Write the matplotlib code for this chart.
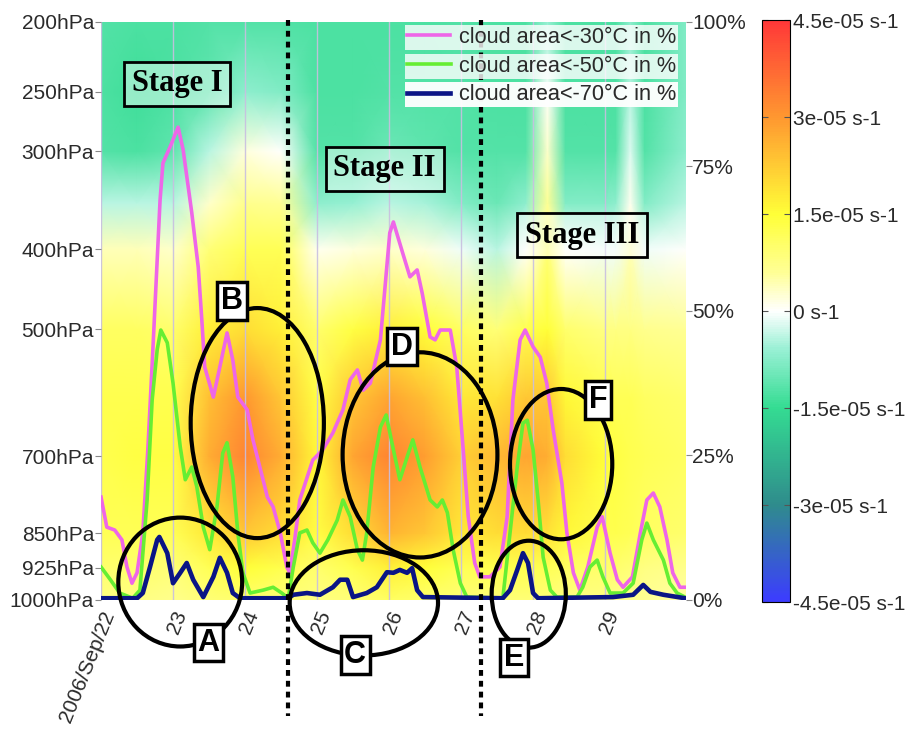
import numpy as np
import matplotlib
matplotlib.use("Agg")
import matplotlib.pyplot as plt
from matplotlib.colors import LinearSegmentedColormap
from matplotlib.patches import Ellipse
import matplotlib.transforms as mtransforms

plt.rcParams['font.family'] = ['Liberation Sans', 'DejaVu Sans']

# ---- divergence field (1e-5 s-1), rows = pressure levels, cols = time (days after Sep 22 00Z)
levels_hpa = [1000, 925, 850, 700, 600, 500, 400, 350, 300, 250, 200]
tick_hpa = [1000, 925, 850, 700, 500, 400, 300, 250, 200]
field_days = [0.0, 0.5, 1.0, 1.5, 2.0, 2.5, 3.0, 3.5, 4.0, 4.5, 5.0, 5.5,
              5.9, 6.2, 6.45, 7.0, 7.15, 7.35, 7.55, 8.125]
field_cols = [
    [0.8, 1.0, 1.2, 1.3, 1.3, 1.1, 0.4, -0.4, -1.2, -1.3, -1.2],
    [0.8, 1.0, 1.2, 1.4, 1.3, 1.1, 0.4, -0.4, -1.3, -1.4, -1.3],
    [0.7, 0.9, 1.2, 1.4, 1.3, 1.0, 0.3, -0.4, -1.1, -1.3, -1.3],
    [0.9, 1.2, 1.8, 2.7, 2.4, 1.7, 0.9, 0.3, -0.4, -1.1, -1.2],
    [1.0, 1.5, 2.3, 3.3, 3.0, 2.0, 1.2, 0.7, 0.2, -0.7, -1.2],
    [0.9, 1.3, 2.0, 2.7, 2.3, 1.7, 1.2, 0.6, 0.0, -0.8, -1.2],
    [0.8, 1.0, 1.4, 1.6, 1.4, 1.0, 0.1, -0.7, -1.2, -1.3, -1.3],
    [0.9, 1.3, 2.0, 2.8, 2.3, 1.4, 0.2, -0.6, -1.2, -1.3, -1.3],
    [1.1, 1.7, 2.6, 3.3, 2.8, 1.7, 0.3, -0.4, -1.0, -1.2, -1.3],
    [1.0, 1.5, 2.3, 2.9, 2.4, 1.5, 0.2, -0.5, -1.1, -1.2, -1.3],
    [0.9, 1.2, 1.8, 2.2, 1.8, 1.1, -0.1, -0.8, -1.2, -1.2, -1.2],
    [0.9, 1.3, 2.0, 2.5, 1.9, 0.9, -0.4, -1.0, -1.2, -1.3, -1.3],
    [0.9, 1.3, 2.0, 2.8, 2.3, 1.3, 0.0, -0.7, -1.2, -1.3, -1.3],
    [0.9, 1.2, 1.9, 2.7, 2.3, 1.5, 0.9, 0.6, 0.3, 0.0, -0.6],
    [0.8, 1.1, 1.6, 2.0, 1.6, 1.0, 0.0, -0.8, -1.2, -1.3, -1.3],
    [0.8, 1.0, 1.3, 1.5, 1.3, 0.8, -0.1, -0.8, -1.2, -1.3, -1.3],
    [0.7, 1.0, 1.3, 1.4, 1.2, 0.8, -0.1, -0.7, -1.2, -1.3, -1.3],
    [0.7, 0.9, 1.2, 1.3, 1.2, 0.8, 0.4, 0.1, -0.2, -0.4, -0.7],
    [0.6, 0.8, 1.1, 1.2, 1.1, 0.7, -0.1, -0.8, -1.2, -1.3, -1.3],
    [0.5, 0.7, 1.0, 1.1, 1.0, 0.6, 0.0, -0.4, -0.7, -0.8, -0.8],
]

# ---- cloud area series (days, percent)
t30 = [0.0, 0.08, 0.19, 0.29, 0.36, 0.43, 0.50, 0.58, 0.65, 0.72, 0.82, 0.86, 0.96, 1.07,
       1.14, 1.26, 1.35, 1.40, 1.44, 1.56, 1.65, 1.75, 1.83, 1.90, 2.03, 2.11, 2.24, 2.31,
       2.39, 2.49, 2.58, 2.62, 2.69, 2.76, 2.94, 3.08, 3.22, 3.36, 3.46, 3.56, 3.64, 3.74,
       3.88, 4.01, 4.06, 4.19, 4.29, 4.39, 4.46, 4.57, 4.64, 4.71, 4.85, 4.94, 5.03, 5.10,
       5.19, 5.26, 5.40, 5.54, 5.64, 5.72, 5.82, 5.89, 6.00, 6.10, 6.19, 6.28, 6.40, 6.47,
       6.56, 6.65, 6.76, 6.89, 6.96, 7.07, 7.17, 7.25, 7.38, 7.49, 7.58, 7.67, 7.76, 7.86,
       7.94, 8.04, 8.11]
c30 = [17.8, 12.6, 12.1, 10.4, 5.7, 2.9, 4.7, 11.6, 26.0, 43.3, 69.2, 75.6, 78.4, 81.8,
       77.9, 67.0, 57.6, 48.4, 40.3, 35.1, 40.3, 46.2, 41.5, 35.1, 32.9, 27.7, 21.3, 17.8,
       16.1, 11.6, 5.7, 4.7, 10.4, 17.3, 24.2, 26.0, 28.9, 32.9, 38.1, 39.8, 36.3, 37.5,
       45.0, 63.5, 65.4, 60.0, 55.9, 57.1, 53.1, 45.5, 45.0, 46.7, 46.7, 40.3, 26.0, 14.4,
       6.4, 4.0, 4.0, 5.7, 14.4, 34.6, 45.0, 46.7, 43.8, 42.0, 37.5, 29.4, 20.2, 11.6,
       4.7, 1.7, 5.7, 12.6, 14.4, 8.1, 3.5, 2.2, 4.0, 11.6, 17.3, 18.5, 16.1, 10.4,
       4.7, 2.2, 2.2]

t50 = [0.0, 0.13, 0.26, 0.44, 0.54, 0.64, 0.71, 0.78, 0.83, 0.92, 1.00, 1.10, 1.17, 1.26,
       1.33, 1.42, 1.51, 1.61, 1.69, 1.75, 1.83, 1.90, 1.97, 2.07, 2.25, 2.39, 2.51, 2.60,
       2.67, 2.76, 2.86, 2.94, 3.04, 3.15, 3.28, 3.36, 3.46, 3.56, 3.63, 3.69, 3.78, 3.88,
       3.96, 4.06, 4.15, 4.25, 4.33, 4.43, 4.57, 4.67, 4.74, 4.81, 4.89, 4.99, 5.08, 5.58,
       5.68, 5.78, 5.86, 5.92, 6.00, 6.07, 6.14, 6.24, 6.33, 6.61, 6.69, 6.79, 6.89, 6.97,
       7.07, 7.25, 7.39, 7.51, 7.58, 7.67, 7.81, 7.90, 8.00, 8.11]
c50 = [5.7, 3.5, 1.2, 0.3, 1.7, 17.3, 34.6, 43.3, 46.7, 44.5, 37.5, 26.5, 20.8, 23.0,
       19.6, 12.6, 8.7, 16.1, 25.4, 27.2, 21.3, 11.6, 4.7, 1.2, 1.7, 2.2, 1.2, 0.3,
       5.7, 11.6, 12.1, 9.9, 8.1, 10.4, 13.8, 17.3, 14.4, 8.7, 6.9, 11.6, 23.0, 29.9,
       32.0, 26.0, 20.8, 24.7, 27.7, 23.0, 17.3, 16.1, 17.3, 15.1, 8.7, 2.9, 0.5, 0.3,
       11.6, 23.0, 30.6, 31.1, 26.0, 17.3, 7.4, 1.7, 0.5, 0.5, 2.2, 5.7, 6.9, 4.0,
       1.2, 1.2, 2.9, 10.4, 13.3, 10.4, 6.9, 2.9, 1.2, 0.5]

t70 = [0.0, 0.50, 0.58, 0.68, 0.78, 0.81, 0.92, 1.00, 1.10, 1.19, 1.28, 1.42, 1.56, 1.65,
       1.75, 1.83, 1.93, 2.60, 2.67, 2.86, 3.04, 3.22, 3.32, 3.42, 3.50, 3.69, 3.83, 3.97,
       4.06, 4.15, 4.25, 4.32, 4.39, 4.47, 5.58, 5.68, 5.78, 5.86, 5.93, 6.00, 6.07, 7.11,
       7.39, 7.53, 7.63, 7.81, 8.11]
c70 = [0.3, 0.3, 1.2, 5.7, 10.4, 10.9, 8.1, 2.9, 4.7, 6.4, 3.5, 0.5, 4.0, 7.3,
       4.7, 1.2, 0.3, 0.3, 0.9, 1.2, 0.9, 2.2, 3.5, 3.5, 0.5, 1.2, 2.2, 4.8,
       4.7, 5.2, 4.7, 5.5, 1.7, 0.5, 0.3, 1.7, 5.2, 8.1, 6.4, 1.2, 0.3, 0.5,
       0.9, 2.6, 1.4, 0.9, 0.3]

stage_bounds = [2.60, 5.28]
day_labels = ['2006/Sep/22', '23', '24', '25', '26', '27', '28', '29']
pct_ticks = [0, 25, 50, 75, 100]
cbar_ticks = [-4.5e-05, -3e-05, -1.5e-05, 0, 1.5e-05, 3e-05, 4.5e-05]
cbar_labels = ['-4.5e-05 s-1', '-3e-05 s-1', '-1.5e-05 s-1', '0 s-1',
               '1.5e-05 s-1', '3e-05 s-1', '4.5e-05 s-1']

# annotations: (label, centre day, centre %, width days, height %, label day, label %)
marks = [
    ('A', 1.10, 3.1, 1.72, 22.3, 1.49, -7.4),
    ('B', 2.17, 30.6, 1.85, 39.8, 1.82, 51.7),
    ('C', 3.65, -0.5, 2.06, 18.2, 3.53, -9.5),
    ('D', 4.43, 25.1, 2.15, 35.5, 4.18, 43.8),
    ('E', 5.94, 1.0, 1.03, 18.5, 5.74, -10.0),
    ('F', 6.39, 23.5, 1.42, 26.0, 6.90, 34.6),
]
stages = [('Stage I', 1.06, 89.3), ('Stage II', 3.94, 74.6), ('Stage III', 6.68, 63.1)]


def height(p):
    # standard-atmosphere height, used as the vertical coordinate
    return 44330.8 * (1 - (np.asarray(p, float) / 1013.25) ** 0.190263)


cmap = LinearSegmentedColormap.from_list('div', [
    (0.0, '#3c3cff'), (1/6, '#2f8c8c'), (2/6, '#34dc92'), (2.6/6, '#98f0d4'),
    (0.5, '#ffffff'), (3.4/6, '#ffff96'), (4/6, '#ffff38'), (5/6, '#ff9830'), (1.0, '#ff3838')])

fig = plt.figure(figsize=(9.11, 7.29), dpi=100)
ax = fig.add_axes([0.1109, 0.177, 0.6422, 0.7929])

X, Y = np.meshgrid(field_days, height(levels_hpa))
Z = np.array(field_cols).T * 1e-5
mesh = ax.pcolormesh(X, Y, Z, cmap=cmap, vmin=-4.5e-5, vmax=4.5e-5, shading='gouraud', zorder=0)

xmax = 8.125
ax.set_xlim(0, xmax)
ax.set_ylim(height(1000), height(200))
ax.set_yticks(height(tick_hpa))
ax.set_yticklabels([f'{p}hPa' for p in tick_hpa])
ax.set_xticks(range(len(day_labels)))
ax.set_xticklabels(day_labels, rotation=68, ha='right', va='top', rotation_mode='anchor')
ax.tick_params(axis='y', labelsize=15, labelcolor='#2a2a2a', color='#888888', length=4, pad=1)
ax.tick_params(axis='x', labelsize=15, labelcolor='#2a2a2a', length=0, pad=6)
ax.grid(axis='x', color='#c8bfe0', linewidth=1.0, alpha=0.9)
for s in ax.spines.values():
    s.set_visible(False)

ax2 = ax.twinx()
ax2.set_xlim(0, xmax)
ax2.set_ylim(0, 100)
ax2.set_yticks(pct_ticks)
ax2.set_yticklabels([f'{v}%' for v in pct_ticks])
ax2.tick_params(axis='y', labelsize=15, labelcolor='#2a2a2a', color='#888888', length=4, pad=0.5)
for s in ax2.spines.values():
    s.set_visible(False)

l30, = ax2.plot(t30, c30, color='#ee66e8', lw=2.6, zorder=3)
l50, = ax2.plot(t50, c50, color='#66ee33', lw=2.6, zorder=3)
l70, = ax2.plot(t70, c70, color='#0a1585', lw=3.3, zorder=4)

trans = mtransforms.blended_transform_factory(ax2.transData, ax2.transAxes)
for d in stage_bounds:
    ax2.plot([d, d], [1.003, -0.2], transform=trans, color='black', lw=3,
             linestyle=(0, (1.4, 1.2)), clip_on=False, zorder=5)

for lab, cx, cy, w, h, lx, ly in marks:
    ax2.add_patch(Ellipse((cx, cy), w, h, fill=False, ec='black', lw=3, zorder=6, clip_on=False))
    ax2.text(lx, ly, lab, fontsize=22, fontweight='bold', ha='center', va='center', zorder=7,
             clip_on=False,
             bbox=dict(boxstyle='square,pad=0.12', fc='white', ec='black', lw=2.5))

for lab, sx, sy in stages:
    ax2.text(sx, sy, lab, fontsize=22, fontweight='bold', family='Liberation Serif',
             ha='center', va='center', zorder=7,
             bbox=dict(boxstyle='square,pad=0.25', fc=(1, 1, 1, 0.45), ec='black', lw=2))

rows = [(l30, 'cloud area<-30°C in %', 0.973), (l50, 'cloud area<-50°C in %', 0.923),
        (l70, 'cloud area<-70°C in %', 0.874)]
for h, txt, fy in rows:
    leg = ax2.legend([h], [txt], loc='center right', bbox_to_anchor=(0.987, fy),
                     bbox_transform=ax2.transAxes, fontsize=15.6, frameon=True, fancybox=False,
                     framealpha=0.8, edgecolor='none', borderpad=0.1, borderaxespad=0,
                     handlelength=2.0, handletextpad=0.4)
    for t in leg.get_texts():
        t.set_color('#2a2a2a')
    leg.set_zorder(8)
    ax2.add_artist(leg)

cax = fig.add_axes([0.8364, 0.1742, 0.0307, 0.798])
cb = fig.colorbar(mesh, cax=cax, ticks=cbar_ticks)
cb.set_ticklabels(cbar_labels)
cb.outline.set_linewidth(0.8)
cax.tick_params(direction='in', left=True, right=True, length=4, labelsize=15,
                labelcolor='#2a2a2a', color='#555555', pad=2)

fig.savefig('out.png', dpi=100)
